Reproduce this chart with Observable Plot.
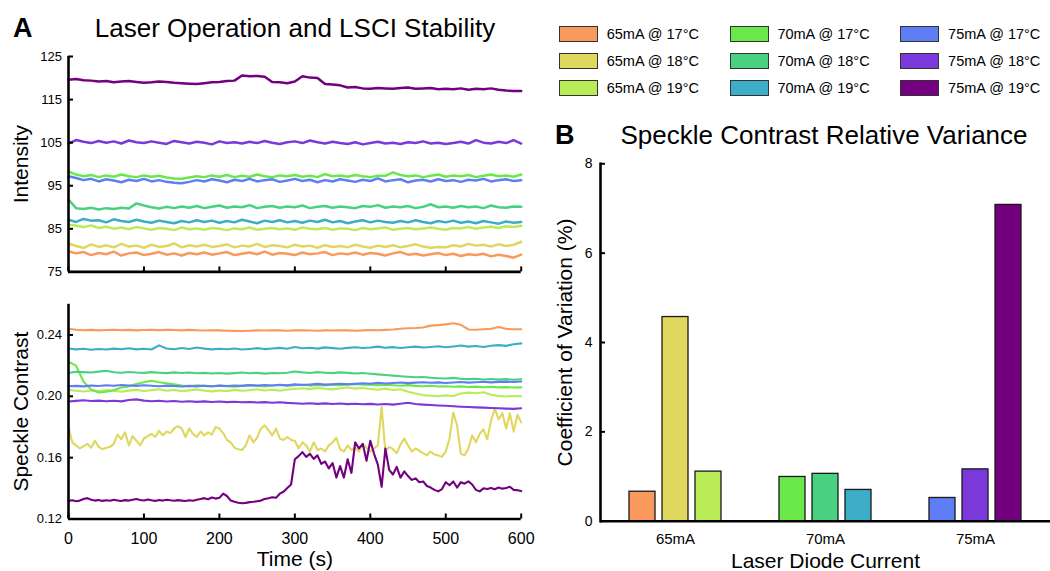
<!DOCTYPE html>
<html>
<head>
<meta charset="utf-8">
<script src="https://cdn.jsdelivr.net/npm/d3@7"></script>
<script src="https://cdn.jsdelivr.net/npm/@observablehq/plot@0.6"></script>
<style>
  body { margin: 0; background: #fff; }
  #fig { position: relative; width: 1050px; height: 571px; overflow: hidden; background: #fff;
         font-family: "Liberation Sans", Arial, Helvetica, sans-serif; color: #000; }
  .abs { position: absolute; line-height: 1; white-space: nowrap; }
  .panel { position: absolute; }
  g[aria-label="y-axis label"] text, g[aria-label="x-axis label"] text, g[aria-label="fx-axis label"] text { font-size: 21px; }
  #legend { position: absolute; left: 559px; top: 21px; display: grid; grid-template-rows: repeat(3, 26.7px);
            grid-auto-flow: column; grid-auto-columns: 170.7px; }
  .item { display: flex; align-items: center; font-size: 14.5px; }
  .sw { width: 39px; height: 16px; box-sizing: border-box; border: 1.3px solid #333; margin-right: 8.7px; }
</style>
</head>
<body>
<div id="fig">
  <div class="abs" style="left:13px;top:15px;font-size:27px;font-weight:bold">A</div>
  <div class="abs" style="left:295px;top:14.6px;font-size:26px;transform:translateX(-50%)">Laser Operation and LSCI Stability</div>
  <div class="abs" style="left:555px;top:122px;font-size:27px;font-weight:bold">B</div>
  <div class="abs" style="left:824px;top:122.3px;font-size:26px;transform:translateX(-50%)">Speckle Contrast Relative Variance</div>
  <div id="legend"></div>
  <div id="pA1" class="panel" style="left:0;top:40px;width:530px;height:240px"></div>
  <div id="pA2" class="panel" style="left:0;top:290px;width:530px;height:281px"></div>
  <div id="pB" class="panel" style="left:530px;top:150px;width:520px;height:421px"></div>
</div>
<script>
// ---------- series ----------
const seriesNames = ["65mA @ 17°C", "65mA @ 18°C", "65mA @ 19°C",
                     "70mA @ 17°C", "70mA @ 18°C", "70mA @ 19°C",
                     "75mA @ 17°C", "75mA @ 18°C", "75mA @ 19°C"];
const seriesColors = ["#F9995B", "#E0D75E", "#B9EC57",
                      "#6AE84A", "#49D081", "#3DACC6",
                      "#5F7DF4", "#7B38DA", "#72007F"];

// ---------- time samples (s) ----------
const times10 = [0,10,20,30,40,50,60,70,80,90,100,110,120,130,140,150,160,170,180,190,200,210,220,230,240,250,260,270,280,290,300,310,320,330,340,350,360,370,380,390,400,410,420,430,440,450,460,470,480,490,500,510,520,530,540,550,560,570,580,590,600];
const times5 = [0,5,10,15,20,25,30,35,40,45,50,55,60,65,70,75,80,85,90,95,100,105,110,115,120,125,130,135,140,145,150,155,160,165,170,175,180,185,190,195,200,205,210,215,220,225,230,235,240,245,250,255,260,265,270,275,280,285,290,295,300,305,310,315,320,325,330,335,340,345,350,355,360,365,370,375,380,385,390,395,400,405,410,415,420,425,430,435,440,445,450,455,460,465,470,475,480,485,490,495,500,505,510,515,520,525,530,535,540,545,550,555,560,565,570,575,580,585,590,595,600];

// ---------- intensity ----------
const int65_17 = [79.8,79.3,79.6,78.9,79.4,79.1,79.7,78.8,79.3,79.5, 78.9,79.2,79.6,79.0,79.3,78.8,79.4,79.1,79.5,79.0, 79.3,79.6,78.9,79.2,79.5,79.1,79.7,79.0,79.4,79.2, 78.9,79.5,79.1,79.3,79.6,78.9,79.3,79.1,79.5,79.0, 79.4,79.2,78.8,79.3,79.6,79.0,79.2,78.8,79.1,79.4, 78.9,79.2,78.7,79.1,78.9,79.2,78.6,79.0,78.7,78.3, 79.0];
const int65_18 = [81.6,81.0,80.6,81.4,80.8,81.2,80.7,81.5,80.9,81.1, 80.6,81.3,80.8,81.0,81.6,80.7,81.2,80.9,81.3,80.8, 81.0,81.4,80.7,81.1,80.9,81.5,80.8,81.2,81.0,80.7, 81.3,80.9,81.1,80.6,81.2,80.8,81.0,80.7,81.3,80.9, 80.6,81.1,80.8,81.2,80.7,81.0,81.4,80.9,80.6,80.8, 80.7,81.2,80.9,81.5,81.1,81.3,80.9,81.4,81.0,81.3, 82.0];
const int65_19 = [86.0,85.7,85.4,85.8,85.2,85.5,85.0,85.3,84.9,85.4, 85.1,84.8,85.2,85.0,84.7,85.3,84.9,85.1,84.8,85.2, 85.0,84.7,85.1,84.9,85.3,84.8,85.0,85.2,84.9,85.1, 84.8,85.3,85.0,84.9,85.2,84.8,85.1,85.0,84.7,85.2, 84.9,85.1,85.3,84.8,85.0,85.2,84.9,85.1,85.3,85.0, 84.8,85.2,85.1,85.4,85.0,85.3,85.5,85.2,85.6,85.4, 85.7];
const int70_17 = [98.3,97.6,97.2,97.5,97.0,97.4,97.1,97.6,97.2,97.0, 97.4,97.1,97.3,96.9,96.7,96.6,96.9,97.2,97.0,97.4, 97.1,97.5,97.0,97.3,97.1,97.6,97.2,97.0,97.4,97.2, 97.5,97.1,97.3,97.0,97.7,97.2,97.4,97.1,97.5,97.2, 97.0,97.3,97.3,98.1,97.5,97.2,97.4,97.0,97.3,97.6, 97.1,97.4,97.2,97.5,97.0,97.3,97.6,97.2,97.4,97.1, 97.6];
const int70_18 = [91.8,89.8,89.6,89.9,89.5,89.8,89.6,89.9,89.7,90.9, 90.4,90.0,89.7,90.1,89.8,90.2,89.9,90.3,89.8,90.1, 90.4,89.9,90.2,90.0,90.5,89.8,90.1,90.3,89.9,90.2, 90.0,90.4,89.8,90.1,90.3,89.9,90.2,90.0,89.8,90.3, 90.1,90.5,89.9,90.2,90.0,90.3,89.8,90.1,90.7,90.0, 90.2,89.9,90.3,90.0,90.2,89.8,90.4,90.0,89.9,90.2, 90.1];
const int70_19 = [87.1,86.6,87.3,86.9,87.0,86.5,87.2,86.8,86.6,87.1, 86.7,86.4,86.9,86.6,86.3,86.8,86.5,87.0,86.6,86.9, 86.4,86.8,86.5,87.1,86.7,86.3,86.9,86.6,87.0,86.5, 86.8,86.4,86.9,86.6,87.1,86.5,86.8,86.3,86.7,87.0, 86.5,86.9,86.6,86.4,86.8,86.5,87.0,86.6,86.3,86.8, 86.5,86.9,86.4,86.7,86.3,86.8,86.5,86.2,86.7,86.4, 86.6];
const int75_17 = [97.2,96.8,96.3,96.6,96.0,96.5,96.2,95.8,96.4,96.1, 96.6,96.0,96.3,95.9,95.7,95.6,95.9,96.3,96.0,96.5, 96.2,95.8,96.4,96.1,96.6,96.0,96.3,96.5,95.9,96.2, 96.6,96.1,96.4,95.8,96.3,96.0,96.5,96.2,95.9,96.4, 96.1,96.7,96.0,96.3,96.5,95.8,96.2,96.4,96.0,96.5, 96.1,96.3,95.9,96.4,96.2,96.6,96.0,96.3,96.5,96.1, 96.3];
const int75_18 = [104.8,105.6,105.2,104.9,105.4,105.0,105.3,104.8,105.5,105.1, 104.9,105.3,105.0,104.7,105.4,105.1,104.8,105.2,105.0,104.6, 105.3,104.9,105.1,104.8,105.2,104.9,105.4,105.0,104.7,105.1, 105.3,104.9,105.5,105.1,104.8,105.2,104.9,104.7,105.1,104.6, 104.9,105.2,104.8,105.0,104.7,105.1,104.9,105.3,104.8,105.0, 104.7,104.9,105.2,104.8,105.6,105.0,104.8,105.2,104.9,105.6, 104.8];
const int75_19 = [119.6,119.8,119.5,119.4,119.2,119.3,119.0,119.2,119.3,119.1, 118.9,119.0,119.2,119.1,118.9,118.8,118.7,118.6,118.8,119.0, 119.1,119.3,119.4,120.6,120.4,120.5,120.3,119.1,119.0,118.8, 119.2,120.4,120.1,120.0,118.6,118.5,118.3,117.8,117.9,117.6, 117.5,117.7,117.6,117.5,117.7,117.8,117.5,117.6,117.7,117.4, 117.5,117.4,117.6,117.3,117.5,117.4,117.6,117.3,117.1,117.0, 117.0];

// ---------- speckle contrast ----------
const sc65_17 = [0.2441,0.2434,0.2431,0.2433,0.2430,0.2432,0.2434,0.2431,0.2433,0.2430, 0.2432,0.2434,0.2431,0.2433,0.2432,0.2430,0.2433,0.2431,0.2429,0.2431, 0.2430,0.2428,0.2427,0.2426,0.2428,0.2430,0.2429,0.2431,0.2430,0.2428, 0.2430,0.2431,0.2429,0.2428,0.2430,0.2429,0.2431,0.2430,0.2428,0.2430, 0.2432,0.2431,0.2433,0.2436,0.2441,0.2444,0.2445,0.2449,0.2461,0.2464, 0.2469,0.2477,0.2466,0.2436,0.2434,0.2437,0.2440,0.2452,0.2440,0.2437, 0.2437];
const sc65_18 = [0.1800,0.1700,0.1680,0.1660,0.1675,0.1690,0.1665,0.1710,0.1670,0.1655, 0.1665,0.1670,0.1690,0.1750,0.1720,0.1765,0.1680,0.1740,0.1710,0.1680, 0.1725,0.1740,0.1755,0.1735,0.1775,0.1745,0.1770,0.1760,0.1790,0.1805, 0.1790,0.1735,0.1790,0.1755,0.1735,0.1770,0.1745,0.1765,0.1750,0.1800, 0.1790,0.1760,0.1715,0.1700,0.1665,0.1655,0.1650,0.1680,0.1745,0.1700, 0.1730,0.1790,0.1810,0.1780,0.1745,0.1790,0.1725,0.1715,0.1735,0.1715, 0.1710,0.1660,0.1700,0.1680,0.1640,0.1700,0.1650,0.1660,0.1640,0.1680, 0.1700,0.1730,0.1655,0.1640,0.1680,0.1650,0.1665,0.1640,0.1690,0.1665, 0.1640,0.1660,0.1680,0.1930,0.1640,0.1670,0.1655,0.1630,0.1685,0.1725, 0.1680,0.1640,0.1660,0.1645,0.1630,0.1615,0.1640,0.1620,0.1615,0.1605, 0.1640,0.1725,0.1895,0.1810,0.1625,0.1615,0.1660,0.1745,0.1700,0.1755, 0.1785,0.1720,0.1840,0.1920,0.1850,0.1890,0.1790,0.1890,0.1770,0.1880, 0.1830];
const sc65_19 = [0.2042,0.2036,0.2031,0.2038,0.2034,0.2041,0.2036,0.2030,0.2037,0.2042, 0.2035,0.2040,0.2046,0.2036,0.2041,0.2034,0.2039,0.2045,0.2037,0.2032, 0.2038,0.2034,0.2042,0.2036,0.2040,0.2046,0.2038,0.2043,0.2037,0.2044, 0.2048,0.2053,0.2047,0.2055,0.2049,0.2045,0.2052,0.2057,0.2050,0.2054, 0.2048,0.2043,0.2050,0.2041,0.2046,0.2030,0.2018,0.2008,0.2004,0.2000, 0.2006,0.2002,0.2018,0.2024,0.2020,0.2026,0.2010,0.2003,0.1999,0.2002, 0.2000];
const sc70_17 = [0.2225,0.2200,0.2095,0.2045,0.2025,0.2030,0.2040,0.2058,0.2065,0.2080, 0.2092,0.2102,0.2092,0.2085,0.2078,0.2070,0.2066,0.2072,0.2068,0.2064, 0.2070,0.2066,0.2062,0.2068,0.2073,0.2069,0.2065,0.2070,0.2074,0.2068, 0.2072,0.2076,0.2070,0.2074,0.2071,0.2076,0.2072,0.2078,0.2080,0.2075, 0.2077,0.2073,0.2076,0.2072,0.2069,0.2073,0.2068,0.2066,0.2069,0.2064, 0.2066,0.2062,0.2065,0.2061,0.2063,0.2059,0.2062,0.2058,0.2060,0.2057, 0.2058];
const sc70_18 = [0.2152,0.2160,0.2158,0.2155,0.2161,0.2167,0.2157,0.2154,0.2159,0.2155, 0.2153,0.2158,0.2154,0.2151,0.2156,0.2152,0.2155,0.2150,0.2153,0.2149, 0.2152,0.2148,0.2151,0.2155,0.2150,0.2153,0.2148,0.2152,0.2150,0.2154, 0.2162,0.2156,0.2152,0.2158,0.2154,0.2151,0.2156,0.2153,0.2149,0.2152, 0.2147,0.2143,0.2139,0.2135,0.2131,0.2128,0.2124,0.2126,0.2121,0.2118, 0.2116,0.2120,0.2114,0.2112,0.2115,0.2110,0.2113,0.2109,0.2112,0.2108, 0.2111];
const sc70_19 = [0.2312,0.2306,0.2310,0.2304,0.2309,0.2305,0.2311,0.2307,0.2313,0.2306, 0.2310,0.2305,0.2332,0.2312,0.2307,0.2315,0.2309,0.2318,0.2311,0.2306, 0.2310,0.2307,0.2312,0.2305,0.2309,0.2314,0.2308,0.2312,0.2316,0.2310, 0.2322,0.2313,0.2317,0.2311,0.2319,0.2314,0.2310,0.2316,0.2320,0.2315, 0.2318,0.2324,0.2317,0.2321,0.2315,0.2320,0.2324,0.2318,0.2322,0.2326, 0.2320,0.2325,0.2331,0.2324,0.2328,0.2322,0.2330,0.2334,0.2329,0.2340, 0.2345];
const sc75_17 = [0.2066,0.2068,0.2065,0.2070,0.2067,0.2072,0.2069,0.2074,0.2071,0.2068, 0.2072,0.2069,0.2066,0.2070,0.2067,0.2064,0.2068,0.2065,0.2069,0.2066, 0.2070,0.2067,0.2071,0.2068,0.2073,0.2070,0.2074,0.2071,0.2075,0.2072, 0.2078,0.2074,0.2077,0.2081,0.2076,0.2079,0.2082,0.2078,0.2081,0.2085, 0.2082,0.2088,0.2084,0.2087,0.2090,0.2086,0.2089,0.2092,0.2088,0.2091, 0.2087,0.2090,0.2093,0.2089,0.2092,0.2095,0.2091,0.2094,0.2096,0.2093, 0.2097];
const sc75_18 = [0.1966,0.1970,0.1974,0.1969,0.1972,0.1968,0.1971,0.1967,0.1976,0.1980, 0.1972,0.1968,0.1971,0.1966,0.1969,0.1965,0.1968,0.1964,0.1967,0.1963, 0.1966,0.1962,0.1965,0.1961,0.1963,0.1960,0.1962,0.1958,0.1961,0.1957, 0.1955,0.1952,0.1955,0.1951,0.1954,0.1950,0.1953,0.1949,0.1952,0.1948, 0.1951,0.1947,0.1950,0.1946,0.1952,0.1958,0.1950,0.1946,0.1943,0.1940, 0.1938,0.1935,0.1932,0.1930,0.1928,0.1926,0.1924,0.1922,0.1920,0.1918, 0.1922];
const sc75_19 = [0.1318,0.1322,0.1316,0.1320,0.1330,0.1336,0.1326,0.1320,0.1324,0.1318, 0.1322,0.1319,0.1325,0.1321,0.1317,0.1323,0.1320,0.1326,0.1330,0.1324, 0.1321,0.1327,0.1322,0.1318,0.1324,0.1320,0.1326,0.1322,0.1319,0.1323, 0.1320,0.1317,0.1322,0.1319,0.1325,0.1330,0.1336,0.1329,0.1340,0.1333, 0.1338,0.1365,0.1350,0.1320,0.1312,0.1306,0.1303,0.1305,0.1310,0.1312, 0.1316,0.1320,0.1330,0.1335,0.1342,0.1338,0.1365,0.1378,0.1402,0.1425, 0.1590,0.1610,0.1636,0.1605,0.1625,0.1592,0.1615,0.1560,0.1575,0.1530, 0.1565,0.1470,0.1545,0.1470,0.1590,0.1500,0.1700,0.1660,0.1690,0.1580, 0.1710,0.1625,0.1555,0.1410,0.1660,0.1520,0.1490,0.1540,0.1470,0.1510, 0.1480,0.1455,0.1465,0.1440,0.1445,0.1415,0.1405,0.1390,0.1380,0.1395, 0.1440,0.1420,0.1445,0.1405,0.1440,0.1430,0.1445,0.1425,0.1390,0.1380, 0.1400,0.1395,0.1402,0.1394,0.1405,0.1398,0.1402,0.1410,0.1390,0.1388, 0.1382];

// ---------- bars ----------
const barCurrents = ["65mA", "70mA", "75mA"];
const barTemps = ["17°C", "18°C", "19°C"];
const cvValues = [0.66, 4.57, 1.11, 0.99, 1.06, 0.70, 0.52, 1.16, 7.08];

// ---------- ticks ----------
const timeTicks = [0, 100, 200, 300, 400, 500, 600];
const intensityTicks = [75, 85, 95, 105, 115, 125];
const speckleTicks = [0.12, 0.16, 0.20, 0.24];
const cvTicks = [0, 2, 4, 6, 8];

// ---------- tables ----------
function toRows(list) {
  const out = [];
  for (const [name, times, vals] of list) vals.forEach((v, i) => out.push({series: name, t: times[i], v}));
  return out;
}
const intensityRows = toRows([
  [seriesNames[0], times10, int65_17], [seriesNames[1], times10, int65_18], [seriesNames[2], times10, int65_19],
  [seriesNames[3], times10, int70_17], [seriesNames[4], times10, int70_18], [seriesNames[5], times10, int70_19],
  [seriesNames[6], times10, int75_17], [seriesNames[7], times10, int75_18], [seriesNames[8], times10, int75_19]
]);
const speckleRows = toRows([
  [seriesNames[0], times10, sc65_17], [seriesNames[1], times5, sc65_18], [seriesNames[2], times10, sc65_19],
  [seriesNames[3], times10, sc70_17], [seriesNames[4], times10, sc70_18], [seriesNames[5], times10, sc70_19],
  [seriesNames[6], times10, sc75_17], [seriesNames[7], times10, sc75_18], [seriesNames[8], times5, sc75_19]
]);
const cvRows = cvValues.map((cv, i) => ({
  current: barCurrents[Math.floor(i / 3)], temp: barTemps[i % 3], series: seriesNames[i], cv
}));

const fontFamily = '"Liberation Sans", Arial, Helvetica, sans-serif';
const baseStyle = {fontFamily, color: "#000", background: "transparent", overflow: "visible"};
const color = {domain: seriesNames, range: seriesColors};
const axisW = 2.6;
const noText = () => "";

// ---------- panel A top ----------
const pA1 = Plot.plot({
  width: 530, height: 240,
  marginTop: 16, marginBottom: 8.6, marginLeft: 68, marginRight: 9.3,
  style: baseStyle,
  x: {domain: [0, 600]},
  y: {domain: [75, 125]},
  color,
  marks: [
    Plot.line(intensityRows, {x: "t", y: "v", z: "series", stroke: "series", strokeWidth: 2.5}),
    Plot.axisY({ticks: intensityTicks, tickSize: 0, tickPadding: 6.5, fontSize: 13,
                label: "Intensity", labelArrow: "none", labelAnchor: "center", labelOffset: 55}),
    Plot.axisY({ticks: intensityTicks, tickSize: -5, strokeWidth: 2, tickFormat: noText, label: null}),
    Plot.axisX({ticks: timeTicks, tickSize: -5, strokeWidth: 2, tickFormat: noText, label: null}),
    Plot.ruleX([0], {strokeWidth: axisW}),
    Plot.ruleY([75], {strokeWidth: axisW})
  ]
});
document.getElementById("pA1").append(pA1);

// ---------- panel A bottom ----------
const pA2 = Plot.plot({
  width: 530, height: 281,
  marginTop: 13.8, marginBottom: 52.5, marginLeft: 68, marginRight: 9.3,
  style: baseStyle,
  x: {domain: [0, 600]},
  y: {domain: [0.12, 0.26]},
  color,
  marks: [
    Plot.line(speckleRows, {x: "t", y: "v", z: "series", stroke: "series", strokeWidth: 2.1}),
    Plot.axisY({ticks: speckleTicks, tickFormat: d3.format(".2f"), tickSize: 0, tickPadding: 6.5, fontSize: 13,
                label: "Speckle Contrast", labelArrow: "none", labelAnchor: "center", labelOffset: 55}),
    Plot.axisY({ticks: speckleTicks, tickSize: -5, strokeWidth: 2, tickFormat: noText, label: null}),
    Plot.axisX({ticks: timeTicks, tickSize: 0, tickPadding: 13.5, fontSize: 16,
                label: "Time (s)", labelArrow: "none", labelAnchor: "center", labelOffset: 47}),
    Plot.axisX({ticks: timeTicks, tickSize: -5, strokeWidth: 2, tickFormat: noText, label: null}),
    Plot.ruleX([0], {strokeWidth: axisW}),
    Plot.ruleY([0.12], {strokeWidth: axisW})
  ]
});
document.getElementById("pA2").append(pA2);

// ---------- panel B ----------
const pB = Plot.plot({
  width: 520, height: 421,
  marginTop: 13.3, marginBottom: 50.3, marginLeft: 70, marginRight: 0,
  style: baseStyle,
  fx: {domain: barCurrents, padding: 0},
  x: {domain: barTemps, paddingInner: 0.2, paddingOuter: 0.84, axis: null},
  y: {domain: [0, 8]},
  color,
  marks: [
    Plot.barY(cvRows, {fx: "current", x: "temp", y: "cv", fill: "series", stroke: "#1a1a1a", strokeWidth: 1.3}),
    Plot.axisY({ticks: cvTicks, tickSize: 0, tickPadding: 8, fontSize: 14,
                label: "Coefficient of Variation (%)", labelArrow: "none", labelAnchor: "center", labelOffset: 43}),
    Plot.axisY({ticks: [2, 4, 6, 8], tickSize: -5, strokeWidth: 2, tickFormat: noText, label: null}),
    Plot.axisFx({anchor: "bottom", tickSize: 0, tickPadding: 12, fontSize: 15,
                 label: "Laser Diode Current", labelArrow: "none", labelAnchor: "center", labelOffset: 47}),
    Plot.ruleY([0], {strokeWidth: axisW}),
    Plot.frame({anchor: "left", facetAnchor: "left", strokeWidth: axisW})
  ]
});
document.getElementById("pB").append(pB);

// ---------- legend ----------
const legend = document.getElementById("legend");
seriesNames.forEach((name, i) => {
  const item = document.createElement("div");
  item.className = "item";
  const sw = document.createElement("div");
  sw.className = "sw";
  sw.style.background = seriesColors[i];
  const lab = document.createElement("span");
  lab.textContent = name;
  item.append(sw, lab);
  legend.append(item);
});
</script>
</body>
</html>
